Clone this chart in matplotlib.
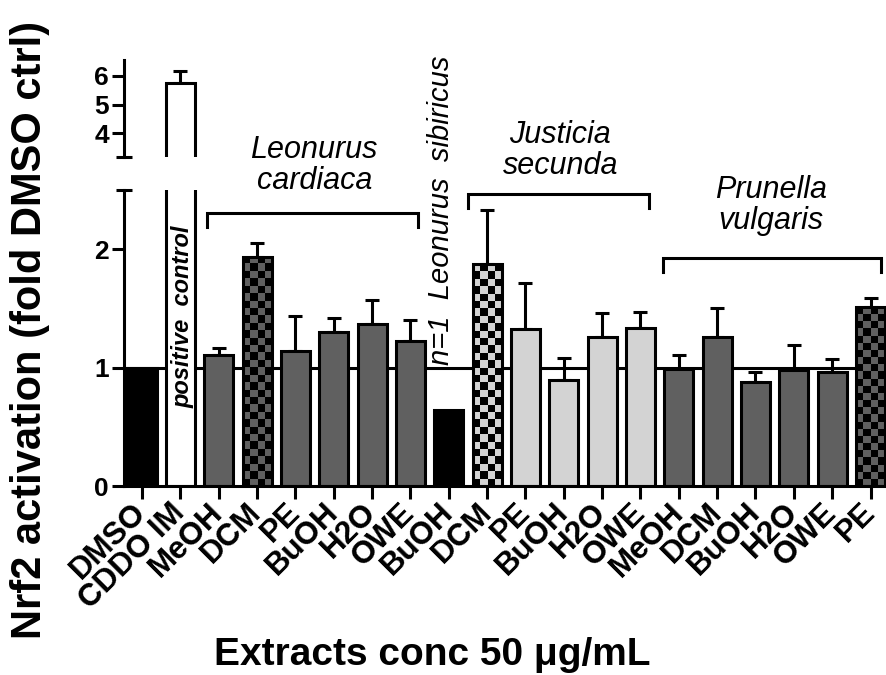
import matplotlib.pyplot as plt
import numpy as np
from matplotlib.colors import ListedColormap

plt.rcParams['font.family'] = ['Liberation Sans', 'DejaVu Sans']
plt.rcParams['font.weight'] = 'bold'

labels = ['DMSO', 'CDDO IM', 'MeOH', 'DCM', 'PE', 'BuOH', 'H2O', 'OWE',
          'BuOH', 'DCM', 'PE', 'BuOH', 'H2O', 'OWE',
          'MeOH', 'DCM', 'BuOH', 'H2O', 'OWE', 'PE']
means = [1.0, 5.75, 1.105, 1.935, 1.14, 1.30, 1.365, 1.226,
         0.64, 1.873, 1.325, 0.895, 1.26, 1.336,
         0.99, 1.26, 0.875, 0.98, 0.965, 1.508]
sem = [0, 0.42, 0.06, 0.115, 0.295, 0.12, 0.205, 0.174,
       0, 0.462, 0.391, 0.183, 0.197, 0.135,
       0.115, 0.24, 0.085, 0.21, 0.105, 0.082]

dark = '#606060'
light = '#d3d3d3'
colors = ['black', 'white', dark, dark, dark, dark, dark, dark,
          'black', light, light, light, light, light,
          dark, dark, dark, dark, dark, dark]
# bars drawn as black/colour checkerboard
checkered = [3, 9, 19]

groups = ['Leonurus\ncardiaca', 'Justicia\nsecunda', 'Prunella\nvulgaris']
group_text_xy = [(4.49, 2.71), (10.91, 2.835), (16.4, 2.37)]
brackets = [(1.70, 7.21, 2.304), (8.51, 13.21, 2.464), (13.60, 19.27, 1.924)]

x = np.arange(len(labels))
width = 0.76
lw = 2.2

fig = plt.figure(figsize=(8.86, 6.75), dpi=100)
ax = fig.add_axes([0.140, 0.280, 0.862, 0.4385])
axt = fig.add_axes([0.140, 0.7674, 0.862, 0.1437], sharex=ax)
axt.patch.set_visible(False)


def set_limits():
    ax.set_xlim(-0.47, 19.45)
    ax.set_ylim(0, 2.5)
    axt.set_ylim(3.16, 6.56)


set_limits()

for a in (ax, axt):
    bars = a.bar(x, means, width, color=colors, edgecolor='none', zorder=2)
    has_err = np.array(sem) > 0
    a.errorbar(x[has_err], np.array(means)[has_err],
               yerr=[np.zeros(has_err.sum()), np.array(sem)[has_err]],
               fmt='none', ecolor='black', elinewidth=lw, capsize=5,
               capthick=lw, zorder=1.9)
    if a is ax:
        for i in checkered:
            b = bars[i]
            x0, w, h = b.get_x(), b.get_width(), b.get_height()
            p0 = a.transData.transform((x0, 0))
            p1 = a.transData.transform((x0 + w, h))
            ncols = 4
            nrows = max(1, int(round((p1[1] - p0[1]) / ((p1[0] - p0[0]) / ncols))))
            grid = np.indices((nrows, ncols)).sum(axis=0) % 2
            im = a.imshow(grid, cmap=ListedColormap(['black', colors[i]]),
                          extent=(x0, x0 + w, 0, h), aspect='auto',
                          origin='lower', interpolation='nearest', zorder=2.1)
            im.set_clip_path(b)
    a.bar(x, means, width, facecolor='none', edgecolor='black', linewidth=lw,
          zorder=2.2)
    a.spines['top'].set_visible(False)
    a.spines['right'].set_visible(False)
    a.spines['left'].set_linewidth(lw)
    a.spines['bottom'].set_linewidth(lw)
    a.tick_params(axis='both', length=9, width=lw, labelsize=19)
    a.tick_params(axis='y', pad=2)

set_limits()

ax.axhline(1, color='black', lw=lw, zorder=1)
ax.set_yticks([0, 1, 2])
ax.set_xticks(x)
ax.set_xticklabels(labels, rotation=45, ha='right', va='center',
                   rotation_mode='anchor', fontsize=22.5)
ax.tick_params(axis='x', pad=7)

axt.set_yticks([4, 5, 6])
axt.spines['bottom'].set_visible(False)
axt.tick_params(axis='x', bottom=False, labelbottom=False)

# caps where the y axis is broken
ax.plot(0, 1, marker='_', ms=12, mew=lw, color='black',
        transform=ax.transAxes, clip_on=False)
axt.plot(0, 0, marker='_', ms=12, mew=lw, color='black',
         transform=axt.transAxes, clip_on=False)

for name, (tx, ty) in zip(groups, group_text_xy):
    ax.text(tx, ty, name, ha='center', va='center', style='italic',
            fontweight='normal', fontsize=22, linespacing=1.05)
for x0, x1, y in brackets:
    ax.plot([x0, x0, x1, x1], [y - 0.115, y, y, y - 0.115], color='black',
            lw=lw, clip_on=False, solid_joinstyle='miter')

ax.text(1.07, 1.43, 'positive  control', rotation=90, ha='center',
        va='center', style='italic', fontsize=17)
ax.text(7.8, 1.02, 'n=1  Leonurus  sibiricus', rotation=90, ha='center',
        va='bottom', style='italic', fontweight='normal', fontsize=21)

fig.text(0.034, 0.511, 'Nrf2 activation (fold DMSO ctrl)', rotation=90,
         ha='center', va='center', fontsize=30)
fig.text(0.488, 0.03, 'Extracts conc 50 μg/mL', ha='center', va='center',
         fontsize=28)

plt.savefig('out.png', dpi=100)
